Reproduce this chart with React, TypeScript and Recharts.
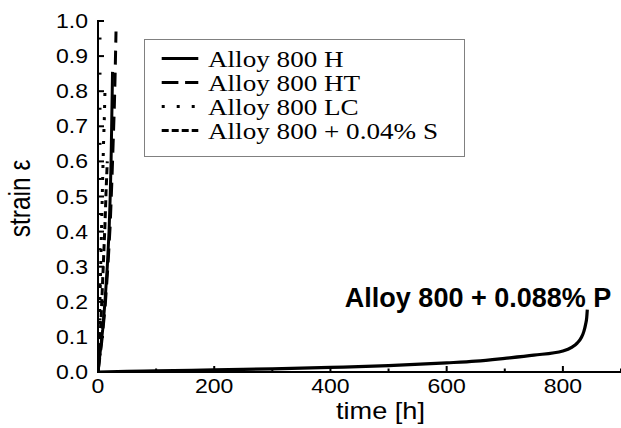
import React from 'react';
import { LineChart, Line, XAxis, YAxis, Legend, ReferenceDot } from 'recharts';

// ---------- data (time [h], strain ε) ----------
const alloyH = [
  { t: 0, e: 0 }, { t: 4, e: 0.06 }, { t: 8, e: 0.12 }, { t: 12, e: 0.2 }, { t: 16, e: 0.3 },
  { t: 19, e: 0.4 }, { t: 21, e: 0.5 }, { t: 22.5, e: 0.6 }, { t: 23.5, e: 0.7 },
  { t: 24.5, e: 0.8 }, { t: 25, e: 0.855 },
];
const alloyHT = [
  { t: 0, e: 0 }, { t: 6, e: 0.08 }, { t: 12, e: 0.18 }, { t: 17, e: 0.3 }, { t: 21, e: 0.42 },
  { t: 24, e: 0.55 }, { t: 26, e: 0.65 }, { t: 28, e: 0.75 }, { t: 29.5, e: 0.85 }, { t: 31, e: 0.97 },
];
const alloyLC = [
  { t: 0, e: 0 }, { t: 2, e: 0.1 }, { t: 4, e: 0.25 }, { t: 6, e: 0.4 }, { t: 8, e: 0.55 },
  { t: 9.5, e: 0.65 }, { t: 11, e: 0.73 }, { t: 12, e: 0.8 },
];
const alloyS = [
  { t: 0, e: 0 }, { t: 3, e: 0.08 }, { t: 6, e: 0.18 }, { t: 9, e: 0.3 }, { t: 12, e: 0.42 },
  { t: 14, e: 0.52 }, { t: 16, e: 0.6 },
];
const alloyP = [
  { t: 0, e: 0 }, { t: 50, e: 0.002 }, { t: 100, e: 0.003 }, { t: 200, e: 0.006 },
  { t: 300, e: 0.009 }, { t: 400, e: 0.013 }, { t: 500, e: 0.018 }, { t: 600, e: 0.026 },
  { t: 650, e: 0.031 }, { t: 700, e: 0.039 }, { t: 750, e: 0.048 }, { t: 800, e: 0.06 },
  { t: 815, e: 0.07 }, { t: 825, e: 0.083 }, { t: 832, e: 0.099 }, { t: 836, e: 0.115 },
  { t: 839, e: 0.135 }, { t: 841, e: 0.155 }, { t: 842, e: 0.178 },
];

const seriesNames = ['Alloy 800 H', 'Alloy 800 HT', 'Alloy 800 LC', 'Alloy 800 + 0.04% S'];
const pLabel = 'Alloy 800 + 0.088% P';

const xMajorTicks = [0, 200, 400, 600, 800];
const xMinorTicks = [100, 300, 500, 700, 900];
const yMajorTicks = [0, 0.1, 0.2, 0.3, 0.4, 0.5, 0.6, 0.7, 0.8, 0.9, 1.0];
const yMinorTicks = [0.05, 0.15, 0.25, 0.35, 0.45, 0.55, 0.65, 0.75, 0.85, 0.95];
const yTickLabels = ['0.0', '0.1', '0.2', '0.3', '0.4', '0.5', '0.6', '0.7', '0.8', '0.9', '1.0'];

const xTitle = 'time [h]';
const yTitle = 'strain ε';

// ---------- styles ----------
const SANS = '"Liberation Sans", Arial, sans-serif';
const SERIF = '"Liberation Serif", "Times New Roman", serif';
const SX = 1.18; // horizontal stretch seen in the reference

const seriesDatas = [alloyH, alloyHT, alloyLC, alloyS];
const plotDash = [undefined, '14 8', '3 9', '7 4'];
const legendDash = [undefined, '16.7 6.7', '3 12', '7 3'];

const allXTicks = [...xMajorTicks, ...xMinorTicks].sort((a, b) => a - b);
const allYTicks = [...yMajorTicks, ...yMinorTicks].sort((a, b) => a - b);

const isMajorY = (v: number) => yMajorTicks.some((m) => Math.abs(m - v) < 1e-9);
const yLabelFor = (v: number) => yTickLabels[yMajorTicks.findIndex((m) => Math.abs(m - v) < 1e-9)];

const BottomTick = (props: any) => {
  const { x, y, payload } = props;
  const major = xMajorTicks.includes(payload.value);
  return (
    <g>
      <line x1={x} x2={x} y1={y} y2={y - (major ? 6 : 3.5)} stroke="#000" strokeWidth={2} />
      {major && (
        <text
          transform={`translate(${x},${y + 21}) scale(${SX},1)`}
          textAnchor="middle"
          fontFamily={SANS}
          fontSize={19.5}
          fill="#000"
        >
          {payload.value}
        </text>
      )}
    </g>
  );
};

const TopTick = (props: any) => {
  const { x, y, payload } = props;
  const major = xMajorTicks.includes(payload.value);
  return <line x1={x} x2={x} y1={y} y2={y + (major ? 6 : 3.5)} stroke="#000" strokeWidth={2} />;
};

const LeftTick = (props: any) => {
  const { x, y, payload } = props;
  const major = isMajorY(payload.value);
  return (
    <g>
      <line x1={x} x2={x + (major ? 6 : 3.5)} y1={y} y2={y} stroke="#000" strokeWidth={2} />
      {major && (
        <text
          transform={`translate(${x - 10},${y + 7}) scale(${SX},1)`}
          textAnchor="end"
          fontFamily={SANS}
          fontSize={19.5}
          fill="#000"
        >
          {yLabelFor(payload.value)}
        </text>
      )}
    </g>
  );
};

const XTitle = (props: any) => {
  const vb = props.viewBox;
  return (
    <text
      transform={`translate(${vb.x + vb.width / 2 + 21},${vb.y + 47}) scale(${SX},1)`}
      textAnchor="middle"
      fontFamily={SANS}
      fontSize={23}
      fill="#000"
    >
      {xTitle}
    </text>
  );
};

const YTitle = (props: any) => {
  const vb = props.viewBox;
  return (
    <text
      transform={`translate(${vb.x + 20},${vb.y + vb.height / 2 + 2}) scale(${SX},1) rotate(-90)`}
      textAnchor="middle"
      dominantBaseline="central"
      fontFamily={SANS}
      fontSize={24.5}
      fill="#000"
    >
      {yTitle}
    </text>
  );
};

const PLabel = (props: any) => {
  const vb = props.viewBox;
  const cx = vb.x + vb.width / 2;
  const cy = vb.y + vb.height / 2;
  return (
    <text
      x={cx + 24}
      y={cy - 3}
      textAnchor="end"
      fontFamily={SANS}
      fontWeight="bold"
      fontSize={27}
      fill="#000"
    >
      {pLabel}
    </text>
  );
};

const LegendBox = () => (
  <div
    style={{
      width: 321,
      height: 118,
      border: '1px solid #808080',
      boxSizing: 'border-box',
      background: '#fff',
    }}
  >
    <svg width={319} height={116} style={{ display: 'block' }}>
      {seriesNames.map((name, i) => {
        const cy = 18.5 + i * 24;
        return (
          <g key={name}>
            <line
              x1={16.7}
              x2={53.3}
              y1={cy}
              y2={cy}
              stroke="#000"
              strokeWidth={3}
              strokeDasharray={legendDash[i]}
            />
            <text
              transform={`translate(63,${cy + 8}) scale(1.18,1)`}
              fontFamily={SERIF}
              fontSize={23}
              fill="#000"
            >
              {name}
            </text>
          </g>
        );
      })}
    </svg>
  </div>
);

const axisLineStyle = { stroke: '#000', strokeWidth: 2, strokeLinecap: 'square' as const };

export default function App() {
  const pEnd = alloyP[alloyP.length - 1];
  return (
    <div
      style={{
        position: 'absolute',
        left: 0,
        top: 0,
        width: 621,
        height: 428,
        overflow: 'hidden',
        background: '#fff',
      }}
    >
      <LineChart width={621} height={428} margin={{ top: 21, right: 0, bottom: 0, left: 0 }}>
        <XAxis
          xAxisId="main"
          dataKey="t"
          type="number"
          domain={[0, 900]}
          ticks={allXTicks}
          interval={0}
          tickSize={0}
          tickMargin={0}
          tick={<BottomTick />}
          tickLine={false}
          axisLine={axisLineStyle}
          height={56}
          allowDataOverflow
          label={{ content: <XTitle /> }}
        />
        <XAxis
          xAxisId="top"
          orientation="top"
          type="number"
          domain={[0, 900]}
          ticks={allXTicks}
          interval={0}
          tickSize={0}
          tickMargin={0}
          tick={<TopTick />}
          tickLine={false}
          axisLine={axisLineStyle}
          height={0}
        />
        <YAxis
          yAxisId="main"
          type="number"
          domain={[0, 1]}
          ticks={allYTicks}
          interval={0}
          tickSize={0}
          tickMargin={0}
          tick={<LeftTick />}
          tickLine={false}
          axisLine={axisLineStyle}
          width={98}
          allowDataOverflow
          label={{ content: <YTitle /> }}
        />
        <Legend
          layout="horizontal"
          verticalAlign="middle"
          align="center"
          content={<LegendBox />}
          wrapperStyle={{ position: 'absolute', left: 144, top: 39, width: 321, height: 118 }}
        />
        {seriesDatas.map((d, i) => (
          <Line
            key={seriesNames[i]}
            xAxisId="main"
            yAxisId="main"
            data={d}
            dataKey="e"
            name={seriesNames[i]}
            type="linear"
            stroke="#000"
            strokeWidth={3}
            strokeDasharray={plotDash[i]}
            dot={false}
            activeDot={false}
            isAnimationActive={false}
          />
        ))}
        <Line
          xAxisId="main"
          yAxisId="main"
          data={alloyP}
          dataKey="e"
          name={pLabel}
          type="monotone"
          stroke="#000"
          strokeWidth={3.2}
          dot={false}
          activeDot={false}
          isAnimationActive={false}
          legendType="none"
        />
        <ReferenceDot
          xAxisId="main"
          yAxisId="main"
          x={pEnd.t}
          y={pEnd.e}
          r={0}
          fill="none"
          stroke="none"
          label={{ content: <PLabel /> }}
        />
      </LineChart>
    </div>
  );
}
